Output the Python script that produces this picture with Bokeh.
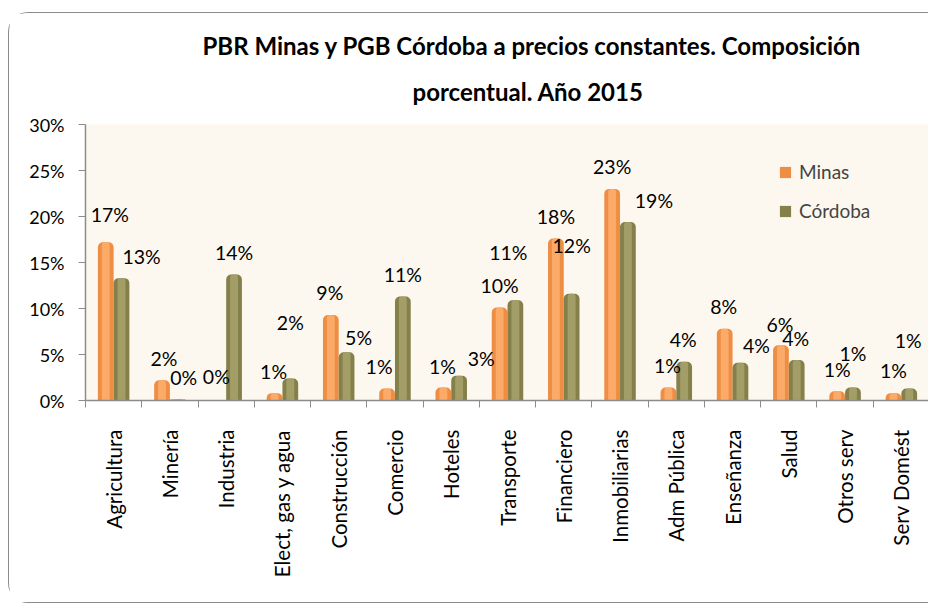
import math
from bokeh.plotting import figure
from bokeh.models import (ColumnDataSource, Range1d, FixedTicker, PrintfTickFormatter,
                          Legend, LegendItem, Title)
from bokeh.core.properties import value
from bokeh.embed import file_html
from bokeh.resources import INLINE

# ---------------- data ----------------
categories = ["Agricultura", "Minería", "Industria", "Elect, gas y agua", "Construcción",
              "Comercio", "Hoteles", "Transporte", "Financiero", "Inmobiliarias",
              "Adm Pública", "Enseñanza", "Salud", "Otros serv", "Serv Domést"]
minas = [17.2, 2.2, 0.05, 0.8, 9.3, 1.3, 1.4, 10.1, 17.6, 23.0, 1.4, 7.8, 6.0, 1.0, 0.8]
cordoba = [13.3, 0.1, 13.7, 2.4, 5.25, 11.3, 2.7, 10.9, 11.6, 19.4, 4.2, 4.1, 4.4, 1.4, 1.3]
series_names = ["Minas", "Córdoba"]
y_ticks = [0, 5, 10, 15, 20, 25, 30]
title_lines = ["PBR Minas y PGB Córdoba a precios constantes. Composición",
               "porcentual. Año 2015"]

# label nudges (pixels) reproducing the original label placement
minas_dx = [4, 2, -2, -1, -1, -8, -1, 0, 0, 0, -1, -1, -1, 0, 0]
minas_dy = [28, 22, 24, 22, 22, 22, 21, 22, 22, 22, 22, 22, 21, 22, 23]
cord_dx = [20, 6, 0, 0, 12, 0, 22, -7, 0, 26, -1, 16, -1, 0, -1]
cord_dy = [22, 22, 22, 56, 15, 22, 17, 48, 48, 22, 22, 17, 22, 34, 48]

FONT = "Lato"
n = len(categories)
centers = [i + 0.5 for i in range(n)]
bar_w = 0.28
half = bar_w / 2

src_m = ColumnDataSource(dict(x=[c - half for c in centers], top=minas,
                              lbl=[f"{round(v):.0f}%" for v in minas],
                              dx=minas_dx, dy=[-d for d in minas_dy]))
src_c = ColumnDataSource(dict(x=[c + half for c in centers], top=cordoba,
                              lbl=[f"{round(v):.0f}%" for v in cordoba],
                              dx=cord_dx, dy=[-d for d in cord_dy]))

p = figure(width=920, height=591, output_backend="svg", toolbar_location=None,
           x_range=Range1d(0, n), y_range=Range1d(0, 30),
           min_border_left=76, min_border_right=0, min_border_top=111, min_border_bottom=204)
p.styles = {"margin-left": "8px", "margin-top": "12px",
            "border": "1.5px solid #8C8C8C", "border-right": "none",
            "border-radius": "20px 0 0 20px"}
p.background_fill_color = "#FDF8EF"
p.border_fill_color = "white"
p.outline_line_color = None
p.xgrid.visible = False
p.ygrid.visible = False

# bars (base + highlight to mimic cylinder shading)
r_m = p.vbar(x="x", top="top", bottom=0, width=bar_w, source=src_m,
             fill_color="#EE8E45", line_color=None, border_radius=(5, 5, 0, 0))
p.vbar(x="x", top="top", bottom=0, width=bar_w * 0.5, source=src_m,
       fill_color="#FBAA68", line_color=None, border_radius=(3, 3, 0, 0))
r_c = p.vbar(x="x", top="top", bottom=0, width=bar_w, source=src_c,
             fill_color="#85804A", line_color=None, border_radius=(5, 5, 0, 0))
p.vbar(x="x", top="top", bottom=0, width=bar_w * 0.5, source=src_c,
       fill_color="#A39E68", line_color=None, border_radius=(3, 3, 0, 0))

# data labels
for s in (src_m, src_c):
    p.text(x="x", y="top", text="lbl", source=s, x_offset="dx", y_offset="dy",
           text_align="center", text_baseline="middle", text_color="black",
           text_font=value(FONT), text_font_size="19.5px")

# axes
p.xaxis.ticker = FixedTicker(ticks=centers, minor_ticks=list(range(n + 1)))
p.xaxis.major_label_overrides = {c: name for c, name in zip(centers, categories)}
p.xaxis.major_label_orientation = math.pi / 2
p.xaxis.major_tick_line_color = None
p.xaxis.major_tick_out = 0
p.xaxis.major_tick_in = 0
p.xaxis.minor_tick_line_color = "#8C8C8C"
p.xaxis.minor_tick_out = 7
p.xaxis.minor_tick_in = 0
p.xaxis.axis_line_color = "#8C8C8C"
p.xaxis.axis_line_width = 1.5
p.xaxis.major_label_standoff = 22
p.xaxis.major_label_text_font = FONT
p.xaxis.major_label_text_font_size = "20.5px"
p.xaxis.major_label_text_color = "black"

p.yaxis.ticker = FixedTicker(ticks=y_ticks)
p.yaxis.formatter = PrintfTickFormatter(format="%d%%")
p.yaxis.minor_tick_line_color = None
p.yaxis.major_tick_out = 7
p.yaxis.major_tick_in = 0
p.yaxis.major_tick_line_color = "#8C8C8C"
p.yaxis.axis_line_color = "#8C8C8C"
p.yaxis.axis_line_width = 1.5
p.yaxis.major_label_standoff = 14
p.yaxis.major_label_text_font = FONT
p.yaxis.major_label_text_font_size = "18px"
p.yaxis.major_label_text_color = "black"

# legend
legend = Legend(items=[LegendItem(label=series_names[0], renderers=[r_m]),
                       LegendItem(label=series_names[1], renderers=[r_c])],
                location=(693, 178), padding=0, margin=0, spacing=16,
                glyph_width=14, glyph_height=14, label_standoff=7, label_height=20,
                label_text_font=FONT, label_text_font_size="19px",
                background_fill_alpha=0, border_line_color=None)
p.add_layout(legend, "center")

# title: two lines (second line added first = closest to the plot)
p.add_layout(Title(text=title_lines[1], align="left", offset=327, vertical_align="top",
                   standoff=34, text_font=FONT, text_font_style="bold",
                   text_font_size="24px", text_color="black"), "above")
p.add_layout(Title(text=title_lines[0], align="left", offset=117, vertical_align="bottom",
                   standoff=0, text_font=FONT, text_font_style="bold",
                   text_font_size="24px", text_color="black"), "above")

open("out.html", "w").write(file_html(p, INLINE))
